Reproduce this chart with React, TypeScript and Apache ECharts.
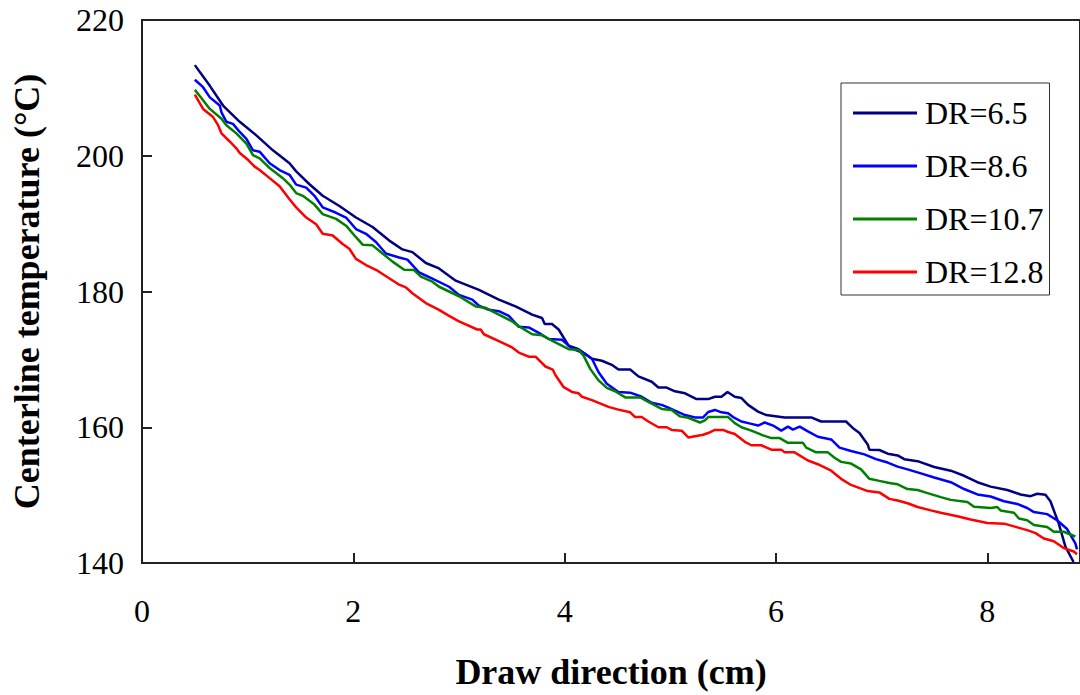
import React, { useEffect, useRef } from "react";
import * as echarts from "echarts";

const seriesNames = ["DR=6.5", "DR=8.6", "DR=10.7", "DR=12.8"];
const seriesColors = ["#000080", "#0000FF", "#008000", "#FF0000"];

const dr65X = [0.5, 0.642, 0.767, 0.925, 1.082, 1.239, 1.396, 1.459, 1.585, 1.71, 1.868, 2.025, 2.182, 2.34, 2.465, 2.559, 2.686, 2.811, 2.969, 3.189, 3.377, 3.535, 3.692, 3.786, 3.811, 3.88, 3.943, 4.038, 4.132, 4.258, 4.352, 4.446, 4.509, 4.62, 4.698, 4.824, 4.887, 4.965, 5.044, 5.139, 5.248, 5.358, 5.422, 5.484, 5.541, 5.61, 5.673, 5.736, 5.83, 5.908, 6.082, 6.333, 6.427, 6.663, 6.726, 6.79, 6.868, 6.884, 6.978, 7.057, 7.151, 7.214, 7.34, 7.497, 7.654, 7.78, 7.906, 8.031, 8.189, 8.314, 8.409, 8.472, 8.55, 8.597, 8.676, 8.739, 8.816];
const dr65Y = [213.35, 210.3, 207.4, 205.0, 203.0, 200.8, 198.9, 197.7, 195.8, 194.1, 192.6, 190.9, 189.5, 187.5, 186.2, 185.8, 184.2, 183.4, 181.6, 180.25, 178.8, 177.8, 176.6, 176.1, 175.2, 175.2, 174.4, 172.0, 171.5, 170.1, 169.8, 169.2, 168.5, 168.5, 167.5, 166.7, 165.85, 165.85, 165.3, 165.0, 164.15, 164.15, 164.5, 164.5, 165.2, 164.5, 164.3, 163.3, 162.3, 161.8, 161.45, 161.45, 160.85, 160.85, 159.9, 159.15, 157.45, 156.7, 156.65, 156.1, 155.85, 155.3, 155.0, 154.15, 153.6, 152.85, 151.9, 151.25, 150.75, 150.1, 149.85, 150.2, 150.05, 149.1, 145.8, 142.4, 140.15];

const dr86X = [0.5, 0.578, 0.642, 0.736, 0.752, 0.799, 0.861, 0.925, 0.988, 1.05, 1.113, 1.208, 1.302, 1.396, 1.459, 1.554, 1.632, 1.71, 1.837, 1.931, 2.025, 2.12, 2.214, 2.308, 2.434, 2.512, 2.623, 2.748, 2.906, 3.0, 3.126, 3.189, 3.283, 3.377, 3.472, 3.566, 3.66, 3.755, 3.849, 3.975, 4.069, 4.195, 4.258, 4.321, 4.399, 4.509, 4.62, 4.729, 4.824, 4.918, 4.981, 5.139, 5.233, 5.311, 5.358, 5.422, 5.484, 5.547, 5.594, 5.673, 5.767, 5.83, 5.893, 5.972, 6.05, 6.113, 6.16, 6.224, 6.302, 6.396, 6.522, 6.601, 6.71, 6.837, 6.946, 7.057, 7.151, 7.245, 7.371, 7.497, 7.654, 7.78, 7.906, 8.031, 8.158, 8.283, 8.377, 8.441, 8.566, 8.66, 8.755, 8.833, 8.849];
const dr86Y = [211.2, 210.1, 208.6, 207.4, 206.4, 205.0, 204.7, 203.5, 202.5, 200.8, 200.6, 198.9, 197.9, 197.2, 195.75, 195.3, 194.1, 192.4, 191.6, 190.9, 189.2, 188.5, 187.3, 185.6, 185.0, 184.7, 182.8, 181.9, 180.7, 179.5, 178.8, 177.9, 177.3, 177.1, 176.4, 174.8, 174.7, 173.9, 173.0, 172.9, 171.6, 170.8, 170.1, 168.1, 166.4, 165.2, 165.1, 164.5, 163.6, 163.3, 162.9, 161.8, 161.45, 161.45, 162.25, 162.55, 162.2, 162.05, 161.5, 160.85, 160.5, 160.25, 160.7, 160.25, 159.5, 160.1, 159.65, 160.1, 159.4, 158.6, 158.2, 157.0, 156.5, 156.0, 155.3, 154.8, 154.2, 153.8, 153.2, 152.6, 151.9, 150.9, 150.1, 149.8, 149.1, 148.7, 148.1, 147.5, 147.2, 146.3, 145.0, 142.9, 142.0];

const dr107X = [0.5, 0.547, 0.642, 0.752, 0.799, 0.893, 0.988, 1.05, 1.113, 1.208, 1.333, 1.396, 1.459, 1.522, 1.632, 1.71, 1.837, 1.931, 2.025, 2.088, 2.182, 2.276, 2.371, 2.481, 2.575, 2.639, 2.748, 2.811, 2.906, 3.0, 3.158, 3.252, 3.377, 3.503, 3.566, 3.692, 3.786, 3.912, 4.038, 4.132, 4.179, 4.242, 4.321, 4.399, 4.478, 4.573, 4.714, 4.792, 4.918, 5.012, 5.092, 5.17, 5.28, 5.327, 5.358, 5.547, 5.61, 5.673, 5.767, 5.861, 5.956, 6.035, 6.113, 6.255, 6.286, 6.38, 6.491, 6.554, 6.616, 6.71, 6.805, 6.884, 6.978, 7.073, 7.151, 7.245, 7.34, 7.434, 7.559, 7.654, 7.811, 7.874, 8.031, 8.094, 8.125, 8.252, 8.299, 8.377, 8.441, 8.566, 8.629, 8.723, 8.833];
const dr107Y = [209.7, 208.8, 206.9, 205.45, 204.5, 203.3, 201.8, 200.1, 199.6, 198.2, 196.7, 195.75, 194.5, 194.1, 192.8, 191.4, 190.7, 189.7, 188.0, 186.9, 186.8, 185.6, 184.4, 183.2, 183.15, 182.2, 181.45, 180.7, 180.0, 179.3, 177.8, 177.6, 176.6, 175.6, 174.9, 173.7, 173.55, 172.5, 171.5, 171.4, 170.55, 168.6, 166.9, 165.8, 165.3, 164.4, 164.4, 163.75, 162.7, 162.55, 161.6, 161.4, 160.7, 161.0, 161.5, 161.5, 160.6, 160.0, 159.5, 158.9, 158.4, 158.4, 157.7, 157.7, 157.0, 156.3, 156.3, 155.5, 154.9, 154.65, 153.8, 152.4, 152.1, 151.8, 151.6, 150.9, 150.75, 150.3, 149.7, 149.3, 149.0, 148.3, 148.1, 148.25, 147.75, 147.4, 146.55, 146.3, 145.6, 145.3, 144.6, 144.6, 143.9];

const dr128X = [0.5, 0.578, 0.673, 0.72, 0.752, 0.83, 0.893, 0.925, 1.003, 1.066, 1.113, 1.208, 1.302, 1.396, 1.459, 1.554, 1.648, 1.71, 1.805, 1.899, 1.962, 2.025, 2.12, 2.214, 2.434, 2.497, 2.559, 2.686, 2.811, 2.906, 3.0, 3.173, 3.205, 3.236, 3.377, 3.503, 3.566, 3.66, 3.724, 3.818, 3.887, 3.912, 3.991, 4.069, 4.132, 4.163, 4.258, 4.415, 4.509, 4.62, 4.667, 4.729, 4.792, 4.887, 4.965, 5.012, 5.107, 5.17, 5.311, 5.358, 5.422, 5.5, 5.547, 5.61, 5.705, 5.767, 5.861, 5.956, 6.05, 6.082, 6.176, 6.302, 6.396, 6.522, 6.616, 6.71, 6.868, 6.978, 7.073, 7.151, 7.245, 7.34, 7.465, 7.559, 7.717, 7.842, 8.0, 8.158, 8.252, 8.377, 8.456, 8.535, 8.629, 8.723, 8.818, 8.849];
const dr128Y = [209.0, 206.9, 205.7, 204.5, 203.3, 202.1, 201.1, 200.4, 199.4, 198.4, 197.9, 196.7, 195.5, 193.6, 192.4, 190.9, 189.9, 188.5, 188.25, 187.0, 186.3, 184.8, 183.9, 183.2, 181.0, 180.6, 179.75, 178.3, 177.3, 176.4, 175.6, 174.4, 174.4, 173.7, 172.7, 171.75, 171.0, 170.4, 170.4, 168.95, 168.5, 167.7, 165.9, 165.2, 165.0, 164.5, 164.0, 163.0, 162.6, 162.2, 161.5, 161.5, 160.85, 160.0, 160.0, 159.6, 159.5, 158.5, 158.9, 159.15, 159.6, 159.6, 159.3, 159.0, 157.85, 157.35, 157.35, 156.7, 156.7, 156.3, 156.3, 155.1, 154.55, 153.6, 152.4, 151.5, 150.6, 150.4, 149.45, 149.2, 148.8, 148.25, 147.75, 147.4, 146.9, 146.4, 145.9, 145.8, 145.4, 144.85, 144.4, 143.6, 143.2, 142.2, 141.7, 141.3];

const xTitle = "Draw direction (cm)";
const yTitle = "Centerline temperature (°C)";

const FONT = '"Liberation Serif", "Times New Roman", serif';

function pairs(xs: number[], ys: number[]) {
  return xs.map((x, i) => [x, ys[i]]);
}

export default function App() {
  const ref = useRef<HTMLDivElement>(null);
  useEffect(() => {
    if (!ref.current) return;
    const chart = echarts.init(ref.current, null, { renderer: "svg" });
    const dataSets = [pairs(dr65X, dr65Y), pairs(dr86X, dr86Y), pairs(dr107X, dr107Y), pairs(dr128X, dr128Y)];
    chart.setOption({
      animation: false,
      backgroundColor: "#ffffff",
      grid: {
        left: 142,
        top: 20,
        right: -3,
        bottom: 125,
        show: true,
        borderColor: "#222",
        borderWidth: 2,
        backgroundColor: "transparent",
      },
      legend: {
        show: true,
        orient: "vertical",
        left: 841,
        top: 83,
        padding: [12, 6, 5, 12],
        borderColor: "#333",
        borderWidth: 1,
        backgroundColor: "#fff",
        icon: "rect",
        itemWidth: 64,
        itemHeight: 3,
        itemGap: 17,
        textStyle: { fontFamily: FONT, fontSize: 32, color: "#000", lineHeight: 36, padding: [0, 0, 0, 3] },
        data: seriesNames,
      },
      xAxis: {
        type: "value",
        min: 0,
        max: 8.877,
        interval: 2,
        name: xTitle,
        nameLocation: "middle",
        nameGap: 91,
        nameTextStyle: { fontFamily: FONT, fontSize: 36, fontWeight: "bold", color: "#000" },
        axisLine: { show: true, lineStyle: { color: "#222", width: 2 } },
        axisTick: { show: true, inside: true, length: 10, lineStyle: { color: "#222", width: 2 } },
        axisLabel: { fontFamily: FONT, fontSize: 32, color: "#000", margin: 32, showMaxLabel: false },
        splitLine: { show: false },
      },
      yAxis: {
        type: "value",
        min: 140,
        max: 220,
        interval: 20,
        name: yTitle,
        nameLocation: "middle",
        nameRotate: 90,
        nameGap: 97,
        nameTextStyle: { fontFamily: FONT, fontSize: 36, fontWeight: "bold", color: "#000" },
        axisLine: { show: true, lineStyle: { color: "#222", width: 2 } },
        axisTick: { show: true, inside: true, length: 10, lineStyle: { color: "#222", width: 2 } },
        axisLabel: { fontFamily: FONT, fontSize: 32, color: "#000", margin: 18 },
        splitLine: { show: false },
      },
      series: seriesNames.map((name, i) => ({
        name,
        type: "line",
        data: dataSets[i],
        showSymbol: false,
        symbol: "none",
        clip: true,
        color: seriesColors[i],
        lineStyle: { color: seriesColors[i], width: 2.5 },
      })),
    });
    return () => chart.dispose();
  }, []);
  return (
    <div
      ref={ref}
      style={{ position: "absolute", left: 0, top: 0, width: 1080, height: 695, background: "#fff" }}
    />
  );
}
